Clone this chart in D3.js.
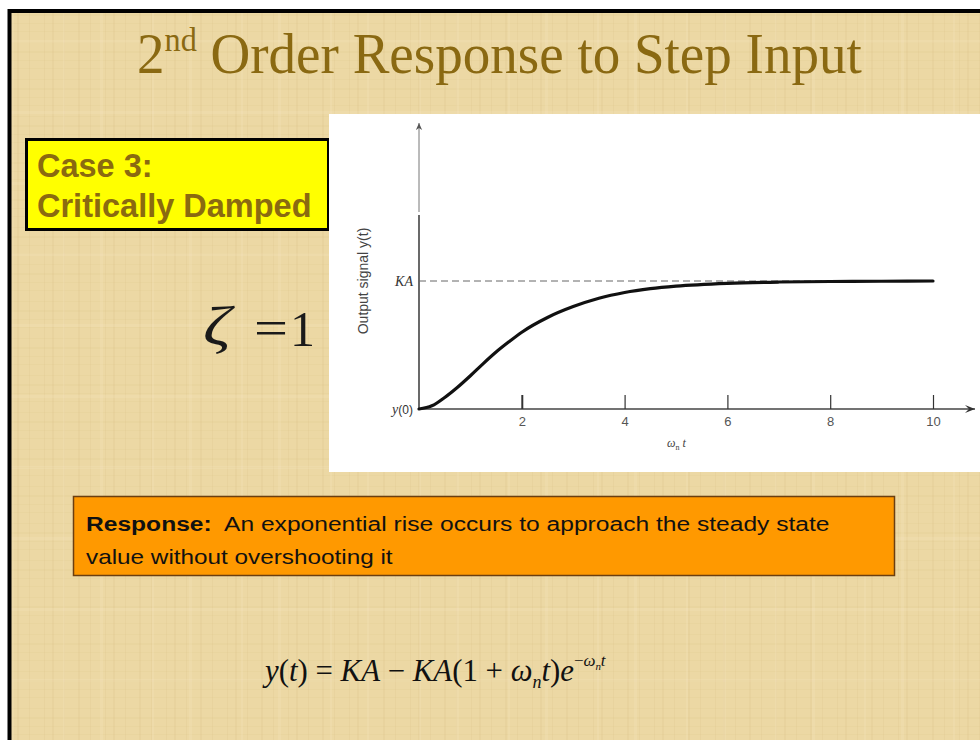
<!DOCTYPE html>
<html>
<head>
<meta charset="utf-8">
<script src="https://cdn.jsdelivr.net/npm/d3@7"></script>
<style>
  html, body { margin: 0; padding: 0; background: #ffffff; }
  svg { display: block; }
</style>
</head>
<body>
<div id="slide"></div>
<script>
// Step response of a critically damped second-order system (ζ = 1)
const timeValues = [0, 0.25, 0.5, 0.75, 1, 1.25, 1.5, 1.75, 2, 2.5, 3, 3.5, 4, 4.5, 5, 6, 7, 8, 9, 10];
const responseValues = [0, 0.025, 0.09, 0.17, 0.26, 0.355, 0.445, 0.525, 0.60, 0.715, 0.80, 0.865, 0.91, 0.94, 0.96, 0.982, 0.992, 0.996, 0.998, 1.0];
const xTickValues = [2, 4, 6, 8, 10];
const xTickLabels = ["2", "4", "6", "8", "10"];
const yTickValues = [0, 1];
const yTickLabels = ["y(0)", "KA"];
const steadyState = 1;

const W = 980, H = 740;
const SERIF = "'Liberation Serif', 'Times New Roman', serif";
const SANS = "'Liberation Sans', Arial, sans-serif";
const svg = d3.select("#slide").append("svg").attr("width", W).attr("height", H);
const defs = svg.append("defs");

// stretch a text element horizontally so it spans the given width from x0
function fitWidth(sel, x0, width) {
  const bb = sel.node().getBBox();
  const s = width / bb.width;
  sel.attr("transform", `translate(${x0 - x0 * s},0) scale(${s},1)`);
}

// woven paper texture tiles
function weave(id, size, lines, color, op) {
  const p = defs.append("pattern").attr("id", id).attr("patternUnits", "userSpaceOnUse")
    .attr("width", size[0]).attr("height", size[1]);
  lines.forEach(l => {
    p.append("rect").attr("x", l[0]).attr("y", l[1]).attr("width", l[2]).attr("height", l[3])
      .attr("fill", color).attr("opacity", op);
  });
}
weave("texA", [61, 47], [[3,0,1,47],[17,0,2,47],[29,0,1,47],[44,0,1,47],[52,0,2,47]], "#c9a96a", 0.1);
weave("texB", [53, 37], [[0,5,53,1],[0,14,53,2],[0,23,53,1],[0,31,53,1]], "#c9a96a", 0.08);
weave("texC", [89, 71], [[11,0,3,71],[0,40,89,3],[63,0,2,71]], "#f8ecc8", 0.18);

// slide background with black frame
["#ecd8a4", "url(#texA)", "url(#texB)", "url(#texC)"].forEach(f => {
  svg.append("rect").attr("x", 9).attr("y", 11).attr("width", W + 20).attr("height", H + 20).attr("fill", f);
});
svg.append("rect").attr("x", 9.5).attr("y", 11).attr("width", W + 20).attr("height", H + 20)
  .attr("fill", "none").attr("stroke", "#000").attr("stroke-width", 4);

// title
const title = svg.append("text").attr("x", 137).attr("y", 73)
  .attr("font-family", SERIF).attr("font-size", 58).attr("fill", "#8a6912");
title.append("tspan").text("2");
title.append("tspan").attr("font-size", 34).attr("dy", -22).text("nd");
title.append("tspan").attr("dy", 22).text(" Order Response to Step Input");
fitWidth(title, 137, 725);

// case label box
svg.append("rect").attr("x", 26.5).attr("y", 139.5).attr("width", 302).attr("height", 90)
  .attr("fill", "#ffff00").attr("stroke", "#000").attr("stroke-width", 3);
const caseText = svg.append("text").attr("font-family", SANS)
  .attr("font-weight", "bold").attr("font-size", 32.5).attr("fill", "#8a6a10");
caseText.append("tspan").attr("x", 37).attr("y", 177).text("Case 3:");
caseText.append("tspan").attr("x", 37).attr("y", 217).text("Critically Damped");

// damping ratio
const zetaStyle = s => s.attr("font-family", SERIF).attr("fill", "#1a1a1a");
const zSym = svg.append("text").attr("x", 203).attr("y", 345).attr("font-size", 54)
  .attr("font-style", "italic").call(zetaStyle).text("ζ");
fitWidth(zSym, 203, 32);
const zEq = svg.append("text").attr("x", 254).attr("y", 345).attr("font-size", 50).call(zetaStyle).text("=");
fitWidth(zEq, 254, 34);
svg.append("text").attr("x", 290).attr("y", 346).attr("font-size", 50).call(zetaStyle).text("1");

// chart panel
svg.append("rect").attr("x", 329).attr("y", 114).attr("width", W - 329).attr("height", 358).attr("fill", "#ffffff");

const x = d3.scaleLinear().domain([0, 10]).range([419, 933]);
const y = d3.scaleLinear().domain([0, 1]).range([409, 281]);

defs.append("marker").attr("id", "arrowR").attr("viewBox", "0 0 10 10").attr("refX", 10).attr("refY", 5)
  .attr("markerWidth", 16).attr("markerHeight", 10).attr("markerUnits", "userSpaceOnUse").attr("orient", "auto")
  .append("path").attr("d", "M0,1 L10,5 L0,9 L4,5 Z").attr("fill", "#333");
defs.append("marker").attr("id", "arrowU").attr("viewBox", "0 0 10 10").attr("refX", 10).attr("refY", 5)
  .attr("markerWidth", 11).attr("markerHeight", 7).attr("markerUnits", "userSpaceOnUse").attr("orient", "auto")
  .append("path").attr("d", "M0,0.5 L10,5 L0,9.5 L3,5 Z").attr("fill", "#555");

// axes lines
svg.append("line").attr("x1", x(0)).attr("x2", x(0)).attr("y1", y(0)).attr("y2", 215)
  .attr("stroke", "#444").attr("stroke-width", 1.6);
svg.append("line").attr("x1", x(0)).attr("x2", x(0)).attr("y1", 212).attr("y2", 123)
  .attr("stroke", "#777").attr("stroke-width", 1).attr("marker-end", "url(#arrowU)");
svg.append("line").attr("x1", x(0)).attr("x2", 975).attr("y1", y(0)).attr("y2", y(0))
  .attr("stroke", "#444").attr("stroke-width", 1.3).attr("marker-end", "url(#arrowR)");

// x axis ticks and labels
const xAxis = d3.axisBottom(x).tickValues(xTickValues)
  .tickFormat((d, i) => xTickLabels[i]).tickSizeInner(-14).tickSizeOuter(0).tickPadding(8);
const gx = svg.append("g").attr("transform", `translate(0,${y(0)})`).call(xAxis);
gx.select(".domain").remove();
gx.selectAll(".tick line").attr("stroke", "#333").attr("stroke-width", (d) => d === 2 ? 2 : 1.2);
gx.selectAll(".tick text").attr("font-family", SANS).attr("font-size", 13).attr("fill", "#555");

// y axis labels
const yAxis = d3.axisLeft(y).tickValues(yTickValues).tickFormat(() => "").tickSize(0);
const gy = svg.append("g").attr("transform", `translate(${x(0)},0)`).call(yAxis);
gy.select(".domain").remove();
gy.selectAll(".tick").each(function (d, i) {
  const t = d3.select(this).select("text")
    .attr("x", -6).attr("dy", "0.35em").attr("text-anchor", "end")
    .attr("font-family", SERIF).attr("font-size", 14).attr("fill", "#333");
  const lab = yTickLabels[i];
  if (lab === "KA") {
    t.append("tspan").attr("font-style", "italic").text("KA");
  } else {
    t.append("tspan").attr("font-style", "italic").text("y");
    t.append("tspan").attr("font-family", SANS).attr("font-size", 12).text("(0)");
  }
});

// steady state reference line
svg.append("line").attr("x1", x(0)).attr("x2", x(10)).attr("y1", y(steadyState)).attr("y2", y(steadyState))
  .attr("stroke", "#666").attr("stroke-width", 1).attr("stroke-dasharray", "7,4");

// axis titles
svg.append("text").attr("transform", `translate(368,281) rotate(-90)`).attr("text-anchor", "middle")
  .attr("font-family", SANS).attr("font-size", 14).attr("fill", "#444")
  .text("Output signal y(t)");
const xl = svg.append("text").attr("x", 667).attr("y", 447)
  .attr("font-family", SERIF).attr("font-size", 12).attr("fill", "#444");
xl.append("tspan").attr("font-style", "italic").text("ω");
xl.append("tspan").attr("font-size", 8).attr("dy", 3).text("n");
xl.append("tspan").attr("dy", -3).attr("dx", 3).attr("font-style", "italic").text("t");

// response curve
const line = d3.line().x((d, i) => x(timeValues[i])).y(d => y(d)).curve(d3.curveMonotoneX);
svg.append("path").datum(responseValues).attr("d", line)
  .attr("fill", "none").attr("stroke", "#111").attr("stroke-width", 3.2).attr("stroke-linecap", "round");

// response description box
svg.append("rect").attr("x", 73.5).attr("y", 496.5).attr("width", 821).attr("height", 79)
  .attr("fill", "#ff9900").attr("stroke", "#6b3f10").attr("stroke-width", 1.5);
const line1 = svg.append("text").attr("x", 86).attr("y", 531)
  .attr("font-family", SANS).attr("font-size", 21).attr("fill", "#111");
line1.append("tspan").attr("font-weight", "bold").text("Response:");
line1.append("tspan").text("\u00a0 An exponential rise occurs to approach the steady state");
fitWidth(line1, 86, 744);
const line2 = svg.append("text").attr("x", 86).attr("y", 564)
  .attr("font-family", SANS).attr("font-size", 21).attr("fill", "#111")
  .text("value without overshooting it");
fitWidth(line2, 86, 307);

// closed-form response equation
const eq = svg.append("text").attr("x", 265).attr("y", 681)
  .attr("font-family", SERIF).attr("font-size", 31).attr("fill", "#111");
eq.append("tspan").attr("font-style", "italic").text("y");
eq.append("tspan").text("(");
eq.append("tspan").attr("font-style", "italic").text("t");
eq.append("tspan").text(") = ");
eq.append("tspan").attr("font-style", "italic").text("KA");
eq.append("tspan").text(" − ");
eq.append("tspan").attr("font-style", "italic").text("KA");
eq.append("tspan").text("(1 + ");
eq.append("tspan").attr("font-style", "italic").text("ω");
eq.append("tspan").attr("font-style", "italic").attr("font-size", 18).attr("dy", 7).text("n");
eq.append("tspan").attr("font-style", "italic").attr("dy", -7).text("t");
eq.append("tspan").text(")");
eq.append("tspan").attr("font-style", "italic").text("e");
eq.append("tspan").attr("font-size", 17).attr("dy", -15).text("−");
eq.append("tspan").attr("font-style", "italic").attr("font-size", 17).text("ω");
eq.append("tspan").attr("font-style", "italic").attr("font-size", 11).attr("dy", 4).text("n");
eq.append("tspan").attr("font-style", "italic").attr("font-size", 17).attr("dy", -4).text("t");
fitWidth(eq, 265, 345);
</script>
</body>
</html>
